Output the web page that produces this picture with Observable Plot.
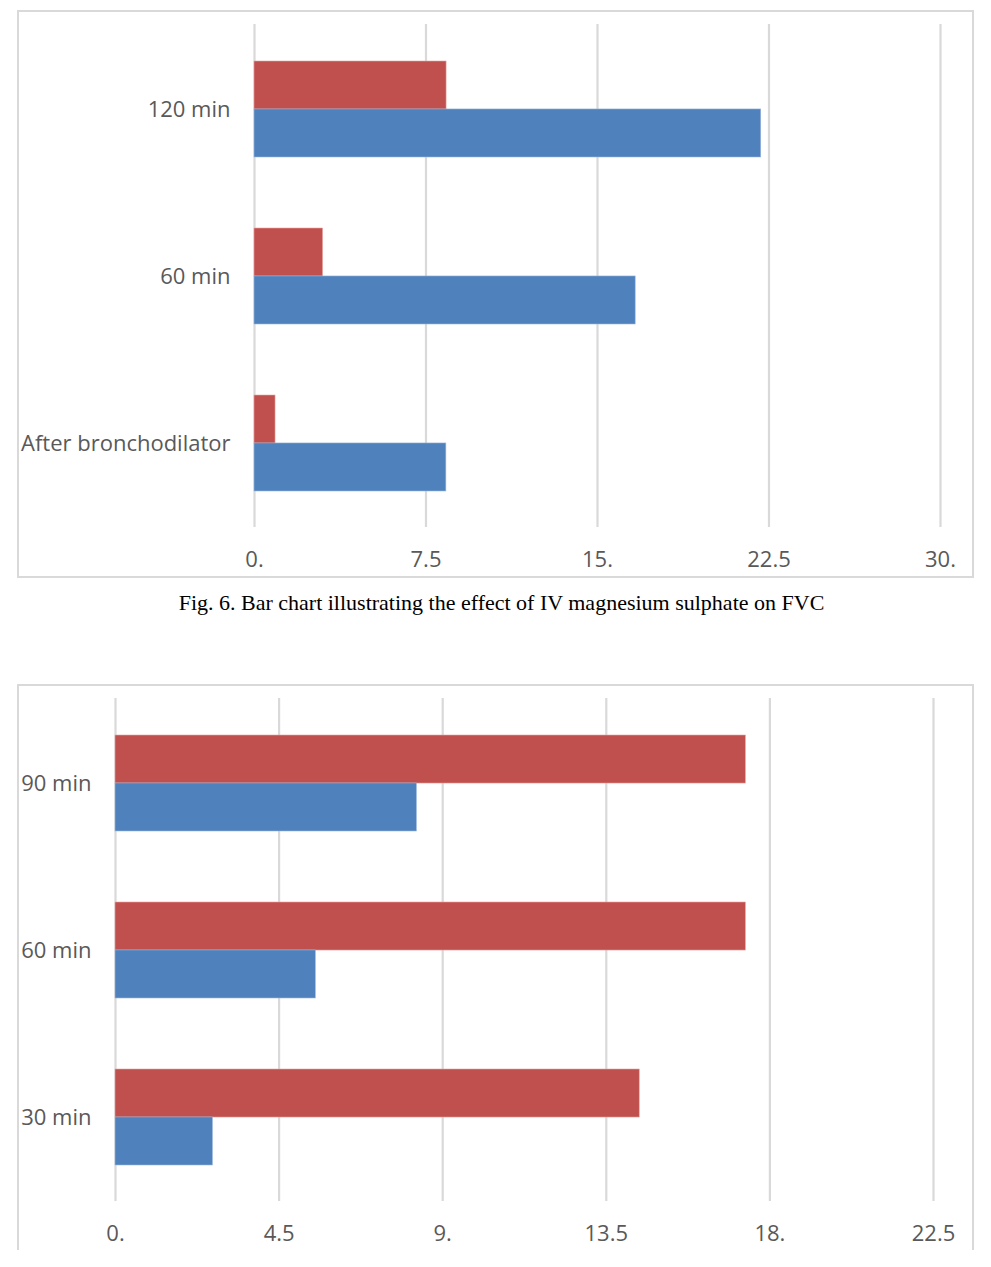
<!DOCTYPE html>
<html>
<head>
<meta charset="utf-8">
<script src="https://cdn.jsdelivr.net/npm/d3@7"></script>
<script src="https://cdn.jsdelivr.net/npm/@observablehq/plot@0.6"></script>
<style>
  html, body { margin: 0; padding: 0; background: #ffffff; }
  #page { position: relative; width: 991px; height: 1267px; overflow: hidden; }
  .frame { position: absolute; box-sizing: border-box; border: 2px solid #d9d9d9; }
  .chart { position: absolute; left: 0; }
  #caption { position: absolute; left: 0; width: 1003px; text-align: center; white-space: nowrap;
    font-family: "Liberation Serif", "Times New Roman", serif; font-size: 22px; line-height: 22px; color: #000; }
</style>
</head>
<body>
<div id="page">
  <div class="frame" style="left:17px; top:10px; width:957px; height:568px;"></div>
  <div class="chart" id="chart1" style="top:0px;"></div>
  <div id="caption" style="top:592px;">Fig. 6. Bar chart illustrating the effect of IV magnesium sulphate on FVC</div>
  <div class="frame" style="left:17px; top:684px; width:957px; height:566px; border-bottom:none;"></div>
  <div class="chart" id="chart2" style="top:684px;"></div>
</div>
<script>
// ---- Chart 1 (FVC) ----
const chart1Categories = ["120 min", "60 min", "After bronchodilator"];
const chart1Red = [8.4, 3.0, 0.92];
const chart1Blue = [22.16, 16.67, 8.39];
const chart1Ticks = [0, 7.5, 15, 22.5, 30];
const chart1TickLabels = ["0.", "7.5", "15.", "22.5", "30."];

// ---- Chart 2 ----
const chart2Categories = ["90 min", "60 min", "30 min"];
const chart2Red = [17.34, 17.34, 14.42];
const chart2Blue = [8.29, 5.51, 2.68];
const chart2Ticks = [0, 4.5, 9, 13.5, 18, 22.5];
const chart2TickLabels = ["0.", "4.5", "9.", "13.5", "18.", "22.5"];

const RED = "#C0504D";
const BLUE = "#4F81BD";
const GRID = "#d9d9d9";
const TEXT = "#595959";
const FONT = "Open Sans, sans-serif";
const FS = 22;

const PI = 0.428;           // paddingInner
const PO = PI / 2;          // paddingOuter

function makeChart({categories, red, blue, ticks, tickLabels, xMax, height, marginTop, marginBottom, marginLeft, marginRight}) {
  const rows = categories.map((c, i) => ({category: c, red: red[i], blue: blue[i]}));
  const innerH = height - marginTop - marginBottom;
  const n = categories.length;
  const step = innerH / (n - PI + 2 * PO);
  const bw = step * (1 - PI);
  const labelOf = new Map(ticks.map((t, i) => [t, tickLabels[i]]));
  return Plot.plot({
    width: 991,
    height,
    marginTop, marginBottom, marginLeft, marginRight,
    style: {fontFamily: FONT, background: "transparent", overflow: "visible"},
    x: {domain: [0, xMax], ticks},
    y: {domain: categories, paddingInner: PI, paddingOuter: PO},
    marks: [
      Plot.gridX(ticks, {stroke: GRID, strokeOpacity: 1, strokeWidth: 2.2}),
      Plot.barX(rows, {x: "red", y: "category", fill: RED, insetBottom: bw / 2, stroke: "#e8a6a4", strokeWidth: 0.6}),
      Plot.barX(rows, {x: "blue", y: "category", fill: BLUE, insetTop: bw / 2, stroke: "#9bb7dc", strokeWidth: 0.6}),
      Plot.axisX(ticks, {tickSize: 0, tickPadding: 24, tickFormat: (d) => labelOf.get(d), fontSize: FS, fill: TEXT, label: null}),
      Plot.axisY({tickSize: 0, tickPadding: 24, fontSize: FS, fill: TEXT, label: null})
    ]
  });
}

document.getElementById("chart1").appendChild(makeChart({
  categories: chart1Categories, red: chart1Red, blue: chart1Blue,
  ticks: chart1Ticks, tickLabels: chart1TickLabels, xMax: 30,
  height: 580, marginTop: 24, marginBottom: 53, marginLeft: 254, marginRight: 51
}));

document.getElementById("chart2").appendChild(makeChart({
  categories: chart2Categories, red: chart2Red, blue: chart2Blue,
  ticks: chart2Ticks, tickLabels: chart2TickLabels, xMax: 22.5,
  height: 566, marginTop: 14, marginBottom: 49, marginLeft: 115, marginRight: 58
}));
</script>
</body>
</html>
